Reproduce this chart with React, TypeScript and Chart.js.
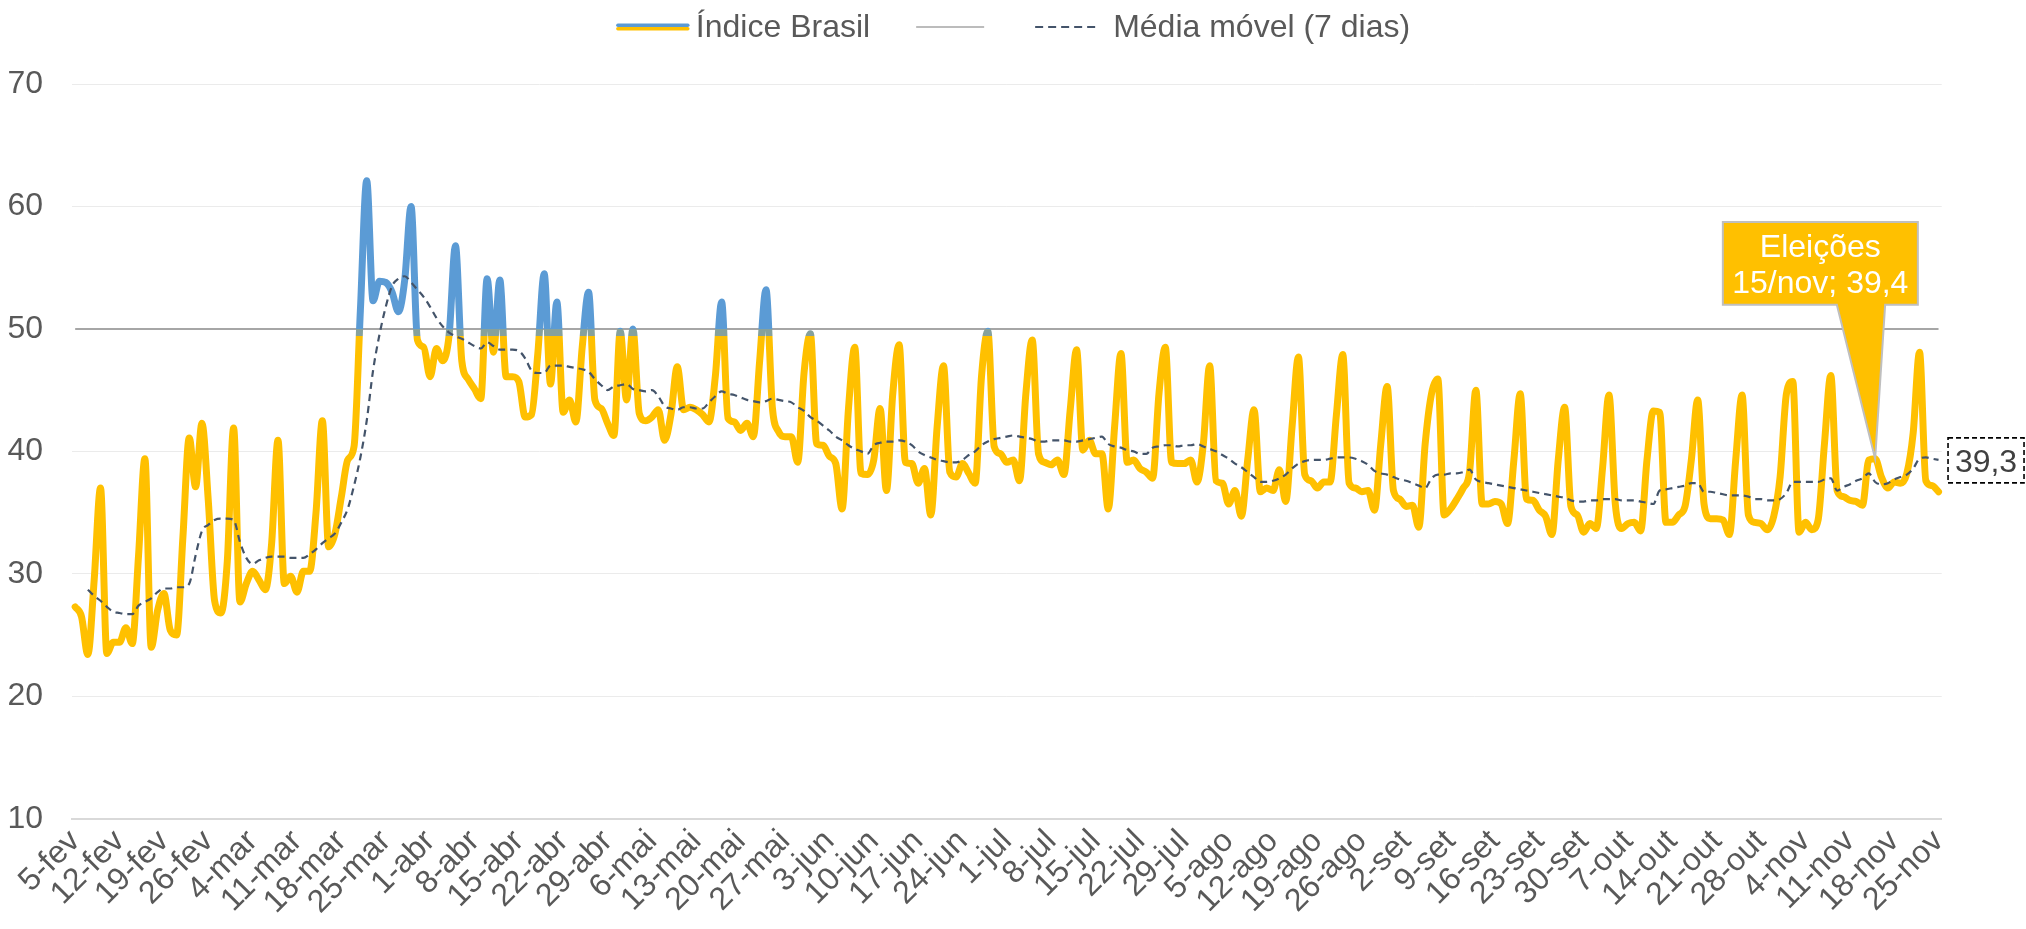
import React, { useEffect, useRef } from "react";
import { Chart, registerables } from "chart.js";

Chart.register(...registerables);

// ---------- data ----------
const MONTHS = ["jan", "fev", "mar", "abr", "mai", "jun", "jul", "ago", "set", "out", "nov", "dez"];
const MONTH_DAYS_2020 = [31, 29, 31, 30, 31, 30, 31, 31, 30, 31, 30, 31];
const START_DAY = 5;
const START_MONTH = 1; // fev
const N_DAYS = 295; // 5-fev .. 25-nov

// weekly axis labels (one every 7 categories)
const tickLabels = [
  "5-fev", "12-fev", "19-fev", "26-fev", "4-mar", "11-mar", "18-mar", "25-mar",
  "1-abr", "8-abr", "15-abr", "22-abr", "29-abr", "6-mai", "13-mai", "20-mai", "27-mai",
  "3-jun", "10-jun", "17-jun", "24-jun", "1-jul", "8-jul", "15-jul", "22-jul", "29-jul",
  "5-ago", "12-ago", "19-ago", "26-ago", "2-set", "9-set", "16-set", "23-set", "30-set",
  "7-out", "14-out", "21-out", "28-out", "4-nov", "11-nov", "18-nov", "25-nov",
];

// Índice Brasil, daily values
const indiceBrasil = [
  27.3, 26.5, 23.4, 29.5, 37.0, 23.5, 24.4, 24.4, 25.6, 24.3,
  31.5, 39.4, 24.0, 27.0, 28.4, 25.4, 25.0, 33.0, 41.1, 37.1,
  42.3, 36.0, 27.8, 26.8, 31.0, 41.9, 27.7, 29.2, 30.2, 29.5,
  28.7, 32.5, 40.9, 29.2, 29.8, 28.5, 30.2, 30.2, 35.0, 42.5,
  32.2, 33.3, 36.3, 39.3, 40.4, 51.5, 62.1, 52.3, 53.9, 53.8,
  53.0, 51.4, 54.0, 60.0, 49.1, 48.5, 46.1, 48.4, 47.4, 49.5,
  56.8, 47.4, 45.9, 45.1, 44.3, 54.1, 48.1, 54.0, 46.1, 46.1,
  45.7, 42.8, 43.0, 48.0, 54.5, 45.5, 52.2, 43.2, 44.2, 42.4,
  48.5, 53.0, 44.2, 43.5, 42.3, 41.3, 49.8, 44.2, 50.0, 43.1,
  42.5, 42.8, 43.4, 40.9, 43.0, 46.9, 43.4, 43.6, 43.4, 43.0,
  42.4, 46.1, 52.2, 42.7, 42.4, 41.7, 42.3, 41.2, 47.4, 53.2,
  43.6, 41.6, 41.2, 41.2, 39.1, 46.4, 49.6, 40.6, 40.5, 39.6,
  39.0, 35.3, 43.4, 48.5, 38.2, 38.1, 39.3, 43.5, 36.8, 44.7,
  48.7, 39.1, 39.0, 37.4, 38.6, 34.8, 42.0, 47.0, 38.3, 37.9,
  39.0, 38.2, 37.4, 46.1, 49.8, 40.4, 39.8, 39.1, 39.3, 37.6,
  44.7, 49.1, 39.8, 39.1, 38.9, 39.3, 38.1, 43.4, 48.3, 40.1,
  40.9, 39.8, 39.8, 35.3, 42.0, 48.0, 39.1, 39.3, 38.6, 38.3,
  37.8, 44.7, 48.5, 39.1, 39.0, 39.0, 39.3, 37.5, 40.6, 47.0,
  37.6, 37.4, 35.7, 36.8, 34.7, 39.3, 43.4, 36.7, 37.0, 36.8,
  38.5, 35.9, 42.0, 47.7, 38.1, 37.6, 37.0, 37.5, 37.5, 43.0,
  47.9, 37.4, 37.0, 36.7, 36.8, 35.2, 40.6, 45.3, 36.8, 36.1,
  35.5, 35.6, 33.8, 40.6, 44.7, 45.9, 34.8, 35.3, 36.1, 37.0,
  38.3, 45.0, 35.7, 35.7, 35.9, 35.7, 34.1, 39.3, 44.7, 36.1,
  36.0, 35.2, 34.7, 33.2, 39.3, 43.6, 35.5, 34.8, 33.4, 34.1,
  33.7, 38.7, 44.6, 35.7, 33.7, 34.1, 34.2, 33.5, 39.3, 43.3,
  43.2, 34.2, 34.2, 34.8, 35.5, 39.3, 44.2, 35.7, 34.5, 34.5,
  34.4, 33.2, 39.3, 44.6, 34.8, 34.2, 34.1, 33.6, 34.7, 37.9,
  44.7, 45.7, 33.4, 34.2, 33.6, 34.4, 40.6, 46.2, 36.8, 36.3,
  36.0, 35.9, 35.6, 39.3, 39.4, 37.9, 37.0, 37.5, 37.4, 38.2,
  41.5, 48.1, 37.6, 37.2, 36.7,
];

// Média móvel (7 dias)
const mediaMovel: (number | null)[] = [
  null, null, 28.7, 28.2, 27.8, 27.3, 26.9, 26.8, 26.7, 26.7,
  27.4, 27.7, 28.0, 28.5, 28.8, 28.8, 28.9, 28.9, 29.2, 31.5,
  33.5, 34.0, 34.4, 34.5, 34.5, 34.4, 32.6, 31.3, 30.8, 31.1,
  31.3, 31.4, 31.4, 31.4, 31.3, 31.3, 31.3, 31.6, 32.0, 32.5,
  32.9, 33.3, 34.2, 35.3, 37.2, 39.5, 42.5, 46.6, 49.5, 51.8,
  53.5, 54.1, 54.3, 53.8, 53.2, 52.6, 51.8, 50.9, 50.2, 49.7,
  49.4, 49.2, 48.9, 48.6, 48.4, 48.9, 48.6, 48.3, 48.3, 48.3,
  48.2, 47.6, 46.6, 46.4, 46.4, 47.0, 47.0, 47.0, 46.9, 46.8,
  46.7, 46.5, 45.9, 45.4, 45.0, 45.3, 45.4, 45.5, 45.1, 45.0,
  44.9, 45.0, 44.5, 43.7, 43.5, 43.4, 43.6, 43.6, 43.5, 43.5,
  44.0, 44.5, 44.9, 44.7, 44.6, 44.4, 44.2, 44.1, 44.0, 44.1,
  44.3, 44.2, 44.1, 44.0, 43.6, 43.3, 42.8, 42.5, 42.1, 41.7,
  41.2, 40.9, 40.5, 40.2, 40.0, 39.8, 40.5, 40.7, 40.8, 40.8,
  40.9, 40.8, 40.5, 40.0, 39.7, 39.5, 39.3, 39.2, 39.1, 39.1,
  39.3, 39.7, 40.0, 40.5, 40.8, 41.0, 41.1, 41.2, 41.3, 41.2,
  41.1, 41.0, 40.8, 40.8, 40.9, 40.9, 40.9, 40.8, 40.8, 40.9,
  41.0, 41.1, 41.2, 40.6, 40.4, 40.3, 40.1, 40.0, 39.8, 39.8,
  40.3, 40.4, 40.5, 40.5, 40.4, 40.5, 40.5, 40.6, 40.4, 40.2,
  40.0, 39.7, 39.4, 39.0, 38.7, 38.3, 37.9, 37.5, 37.5, 37.6,
  37.8, 38.1, 38.6, 39.0, 39.2, 39.3, 39.3, 39.3, 39.4, 39.5,
  39.5, 39.5, 39.4, 39.2, 38.9, 38.4, 38.2, 38.1, 37.9, 37.7,
  37.6, 37.4, 37.2, 37.0, 37.8, 38.1, 38.1, 38.2, 38.2, 38.3,
  38.5, 37.7, 37.5, 37.4, 37.3, 37.2, 37.1, 37.0, 36.9, 36.8,
  36.7, 36.6, 36.5, 36.4, 36.3, 36.2, 36.0, 35.9, 35.9, 36.0,
  36.0, 36.1, 36.1, 36.1, 36.0, 36.0, 36.0, 35.9, 35.8, 35.7,
  36.8, 36.9, 37.0, 37.1, 37.2, 37.4, 37.4, 36.7, 36.7, 36.6,
  36.5, 36.4, 36.4, 36.4, 36.3, 36.1, 36.1, 36.0, 36.0, 36.1,
  36.6, 37.5, 37.5, 37.5, 37.5, 37.5, 37.7, 37.8, 36.8, 37.1,
  37.3, 37.6, 37.8, 38.2, 37.5, 37.3, 37.4, 37.7, 37.9, 38.1,
  38.6, 39.4, 39.5, 39.4, 39.3,
];

const LIMIAR = 50; // reference line
const ELEICAO_INDEX = 284; // 15/nov
const ELEICAO_TITLE = "Eleições";
const ELEICAO_DATE = "15/nov";

// ---------- style ----------
const FONT = "'Liberation Sans', Arial, Helvetica, sans-serif";
const FS = 32;
const TEXT = "#595959";
const BLUE = "#5B9BD5";
const YELLOW = "#FFC000";
const TEAL = "#86A19C";
const MA_COLOR = "#44546A";
const REF_GRAY = "#A6A6A6";

function buildCategories(): string[] {
  const out: string[] = [];
  let d = START_DAY;
  let m = START_MONTH;
  for (let i = 0; i < N_DAYS; i++) {
    out.push(`${d}-${MONTHS[m]}`);
    d++;
    if (d > MONTH_DAYS_2020[m]) {
      d = 1;
      m++;
    }
  }
  return out;
}

const fmt = (v: number) => v.toFixed(1).replace(".", ",");

const legendPlugin = {
  id: "customLegend",
  afterDraw(chart: any) {
    const ctx = chart.ctx as CanvasRenderingContext2D;
    ctx.save();
    ctx.font = `${FS}px ${FONT}`;
    const t1 = "Índice Brasil";
    const t3 = "Média móvel (7 dias)";
    const w1 = ctx.measureText(t1).width;
    const w3 = ctx.measureText(t3).width;
    const m1 = 74, g1 = 6, gap1 = 46, m2 = 68, gap2 = 51, m3 = 62, g3 = 16;
    const total = m1 + g1 + w1 + gap1 + m2 + gap2 + m3 + g3 + w3;
    let x = (chart.width - total) / 2;
    const y = 27;
    ctx.lineCap = "round";
    // item 1: two-tone marker
    ctx.lineWidth = 3.4;
    ctx.strokeStyle = BLUE;
    ctx.beginPath();
    ctx.moveTo(x + 2, y - 1.7);
    ctx.lineTo(x + m1 - 2, y - 1.7);
    ctx.stroke();
    ctx.strokeStyle = YELLOW;
    ctx.beginPath();
    ctx.moveTo(x + 2, y + 1.7);
    ctx.lineTo(x + m1 - 2, y + 1.7);
    ctx.stroke();
    x += m1 + g1;
    ctx.fillStyle = TEXT;
    ctx.textBaseline = "middle";
    ctx.textAlign = "left";
    ctx.fillText(t1, x, y + 1);
    x += w1 + gap1;
    // item 2: gray reference line (no text)
    ctx.lineCap = "butt";
    ctx.lineWidth = 1.5;
    ctx.strokeStyle = REF_GRAY;
    ctx.beginPath();
    ctx.moveTo(x, y);
    ctx.lineTo(x + m2, y);
    ctx.stroke();
    x += m2 + gap2;
    // item 3: dashed
    ctx.lineWidth = 2;
    ctx.strokeStyle = MA_COLOR;
    ctx.setLineDash([8, 5]);
    ctx.beginPath();
    ctx.moveTo(x, y);
    ctx.lineTo(x + m3, y);
    ctx.stroke();
    ctx.setLineDash([]);
    x += m3 + g3;
    ctx.fillText(t3, x, y + 1);
    ctx.restore();
  },
};

const annotationPlugin = {
  id: "annotations",
  afterDatasetsDraw(chart: any) {
    const ctx = chart.ctx as CanvasRenderingContext2D;
    const mainMeta = chart.getDatasetMeta(1);
    const maMeta = chart.getDatasetMeta(2);
    ctx.save();
    // --- callout for elections ---
    const pt = mainMeta.data[ELEICAO_INDEX];
    if (pt) {
      const tx = pt.x;
      const ty = pt.y;
      const L = tx - 152.3, R = tx + 42.7, T = ty - 236.7, B = ty - 154;
      const bl = tx - 38.3, br = tx + 10;
      ctx.beginPath();
      ctx.moveTo(L, T);
      ctx.lineTo(R, T);
      ctx.lineTo(R, B);
      ctx.lineTo(br, B);
      ctx.lineTo(tx, ty);
      ctx.lineTo(bl, B);
      ctx.lineTo(L, B);
      ctx.closePath();
      ctx.fillStyle = YELLOW;
      ctx.fill();
      ctx.lineWidth = 2;
      ctx.strokeStyle = "#BFBFBF";
      ctx.lineJoin = "miter";
      ctx.stroke();
      ctx.fillStyle = "#FFFFFF";
      ctx.font = `${FS}px ${FONT}`;
      ctx.textAlign = "center";
      ctx.textBaseline = "alphabetic";
      const cx = (L + R) / 2;
      ctx.fillText(ELEICAO_TITLE, cx, T + 35);
      ctx.fillText(`${ELEICAO_DATE}; ${fmt(indiceBrasil[ELEICAO_INDEX])}`, cx, T + 71.5);
    }
    // --- last moving-average label ---
    const lastIdx = mediaMovel.length - 1;
    const lp = maMeta.data[lastIdx];
    const lastVal = mediaMovel[lastIdx];
    if (lp && lastVal != null) {
      const L = lp.x + 9.5, R = L + 76, T = lp.y - 22, B = lp.y + 23;
      ctx.setLineDash([5, 3]);
      ctx.lineWidth = 1.6;
      ctx.strokeStyle = "#000000";
      ctx.strokeRect(L, T, R - L, B - T);
      ctx.setLineDash([]);
      ctx.fillStyle = "#404040";
      ctx.font = `${FS}px ${FONT}`;
      ctx.textAlign = "center";
      ctx.textBaseline = "alphabetic";
      ctx.fillText(fmt(lastVal), (L + R) / 2, lp.y + 12.5);
    }
    ctx.restore();
  },
};

export default function App() {
  const canvasRef = useRef<HTMLCanvasElement | null>(null);

  useEffect(() => {
    const canvas = canvasRef.current;
    if (!canvas) return;
    const categories = buildCategories();
    const limiar = categories.map(() => LIMIAR);

    const chart = new Chart(canvas, {
      type: "line",
      data: {
        labels: categories,
        datasets: [
          {
            label: "",
            data: limiar,
            borderColor: REF_GRAY,
            borderWidth: 2,
            pointRadius: 0,
            order: 3,
          },
          {
            label: "Índice Brasil",
            data: indiceBrasil,
            borderColor: (c: any) => {
              const ch = c.chart;
              const area = ch.chartArea;
              if (!area) return YELLOW;
              const ys = ch.scales.y;
              const top = area.top;
              const bot = area.bottom;
              const p50 = (ys.getPixelForValue(50) - top) / (bot - top);
              const p49 = (ys.getPixelForValue(49.4) - top) / (bot - top);
              const g = ch.ctx.createLinearGradient(0, top, 0, bot);
              g.addColorStop(0, BLUE);
              g.addColorStop(p50, BLUE);
              g.addColorStop(p50, TEAL);
              g.addColorStop(p49, TEAL);
              g.addColorStop(p49, YELLOW);
              g.addColorStop(1, YELLOW);
              return g;
            },
            borderWidth: 7,
            pointRadius: 0,
            cubicInterpolationMode: "monotone",
            borderCapStyle: "round",
            borderJoinStyle: "round",
            order: 2,
          },
          {
            label: "Média móvel (7 dias)",
            data: mediaMovel,
            borderColor: MA_COLOR,
            borderWidth: 2.2,
            borderDash: [7, 5],
            pointRadius: 0,
            cubicInterpolationMode: "monotone",
            order: 1,
          },
        ],
      },
      options: {
        responsive: false,
        animation: false,
        devicePixelRatio: 1,
        layout: { padding: { top: 84, right: 84.3, bottom: 0, left: 0 } },
        plugins: {
          legend: { display: false },
          tooltip: { enabled: false },
        },
        scales: {
          x: {
            type: "category",
            offset: true,
            grid: { display: false, drawTicks: false },
            border: { display: true, color: "#D9D9D9", width: 2 },
            ticks: {
              autoSkip: false,
              maxRotation: 45,
              minRotation: 45,
              padding: 4,
              color: TEXT,
              font: { family: FONT, size: FS },
              callback: (_v: any, i: number) => (i % 7 === 0 ? tickLabels[i / 7] : null),
            },
            afterFit: (s: any) => {
              s.height = 110.3;
            },
          },
          y: {
            min: 10,
            max: 70,
            ticks: {
              stepSize: 10,
              padding: 29,
              color: TEXT,
              font: { family: FONT, size: FS },
            },
            grid: {
              drawTicks: false,
              lineWidth: 1,
              color: (c: any) =>
                c.tick && c.tick.value === 50
                  ? "rgba(0,0,0,0)"
                  : c.tick && c.tick.value === 10
                  ? "#D9D9D9"
                  : "#EBEBEB",
            },
            border: { display: false },
            afterFit: (s: any) => {
              s.width = 72;
            },
          },
        },
      },
      plugins: [legendPlugin, annotationPlugin],
    } as any);

    return () => chart.destroy();
  }, []);

  return (
    <div style={{ position: "fixed", left: 0, top: 0, width: 2026, height: 929, background: "#fff" }}>
      <canvas ref={canvasRef} width={2026} height={929} style={{ display: "block" }} />
    </div>
  );
}
